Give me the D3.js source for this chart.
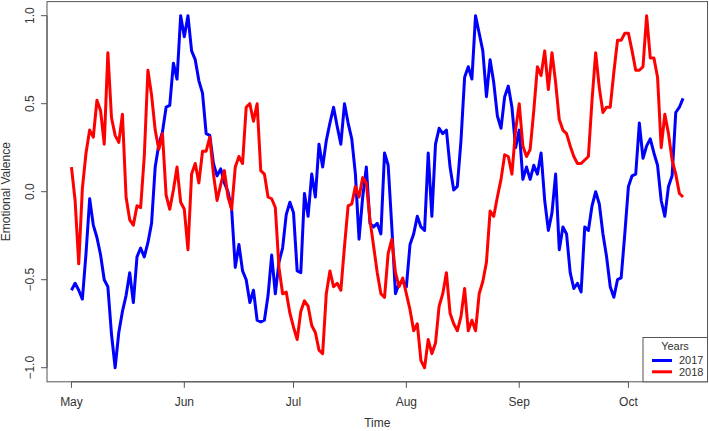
<!DOCTYPE html>
<html>
<head>
<meta charset="utf-8">
<script src="https://cdn.jsdelivr.net/npm/d3@7"></script>
<style>
  body { margin: 0; background: #fff; }
  svg { display: block; font-family: "Liberation Sans", Arial, sans-serif; }
  .lbl { fill: #333; font-size: 12px; }
  .leg { fill: #333; font-size: 11px; }
</style>
</head>
<body>
<div id="chart"></div>
<script>
// --- data: daily values from May 1 ---
const startDay = new Date(2017, 4, 1);
const years = ["2017", "2018"];
const colors = ["#0000ff", "#ff0000"];

const valence2017 = [
  -0.56, -0.52, -0.56, -0.61, -0.35, -0.04, -0.19, -0.26, -0.36, -0.50,
  -0.54, -0.81, -1.00, -0.80, -0.68, -0.59, -0.46, -0.63, -0.37, -0.32,
  -0.37, -0.29, -0.18, 0.14, 0.27, 0.34, 0.48, 0.49, 0.73, 0.64,
  1.00, 0.88, 1.00, 0.80, 0.75, 0.63, 0.56, 0.33, 0.32, 0.16,
  0.09, 0.13, 0.05, 0.00, -0.10, -0.43, -0.30, -0.45, -0.50, -0.63,
  -0.56, -0.73, -0.74, -0.73, -0.59, -0.36, -0.58, -0.40, -0.32, -0.13,
  -0.06, -0.12, -0.45, -0.46, -0.01, -0.14, 0.10, -0.03, 0.27, 0.14,
  0.29, 0.39, 0.48, 0.37, 0.27, 0.50, 0.39, 0.30, 0.10, -0.27,
  -0.03, 0.14, -0.18, -0.20, -0.18, -0.24, 0.22, 0.15, -0.20, -0.58,
  -0.52, -0.51, -0.54, -0.30, -0.24, -0.14, -0.20, -0.22, 0.22, -0.14,
  0.27, 0.36, 0.33, 0.35, 0.14, 0.01, 0.03, 0.29, 0.65, 0.71,
  0.64, 1.00, 0.90, 0.80, 0.54, 0.75, 0.62, 0.43, 0.36, 0.54,
  0.60, 0.48, 0.25, 0.35, 0.07, 0.14, 0.07, 0.15, 0.10, 0.22,
  -0.05, -0.22, -0.12, 0.10, -0.33, -0.20, -0.24, -0.46, -0.55, -0.52,
  -0.57, -0.20, -0.22, -0.08, 0.00, -0.07, -0.24, -0.37, -0.54, -0.60,
  -0.50, -0.49, -0.24, 0.03, 0.09, 0.10, 0.39, 0.19, 0.26, 0.30,
  0.22, 0.15, -0.05, -0.14, 0.03, 0.09, 0.45, 0.48, 0.53
];

const valence2018 = [
  0.14, -0.05, -0.41, 0.02, 0.22, 0.35, 0.31, 0.52, 0.46, 0.27,
  0.79, 0.42, 0.32, 0.28, 0.44, -0.03, -0.16, -0.19, -0.08, -0.09,
  0.20, 0.69, 0.55, 0.35, 0.24, 0.33, -0.02, -0.10, 0.01, 0.14,
  -0.06, -0.10, -0.33, 0.10, 0.16, 0.05, 0.23, 0.23, 0.31, 0.10,
  -0.05, 0.04, 0.12, -0.03, -0.10, 0.14, 0.20, 0.16, 0.48, 0.50,
  0.40, 0.50, 0.12, 0.10, -0.03, -0.04, -0.09, -0.43, -0.58, -0.57,
  -0.69, -0.77, -0.84, -0.68, -0.62, -0.65, -0.76, -0.80, -0.90, -0.92,
  -0.58, -0.45, -0.54, -0.52, -0.56, -0.31, -0.08, -0.07, 0.03, -0.03,
  0.08, 0.05, -0.16, -0.31, -0.46, -0.58, -0.60, -0.35, -0.27, -0.46,
  -0.54, -0.49, -0.58, -0.67, -0.79, -0.75, -0.96, -1.00, -0.84, -0.92,
  -0.86, -0.65, -0.58, -0.46, -0.69, -0.75, -0.79, -0.71, -0.55, -0.79,
  -0.73, -0.79, -0.58, -0.51, -0.40, -0.11, -0.14, -0.03, 0.07, 0.21,
  0.20, 0.10, 0.35, 0.50, 0.26, 0.20, 0.24, 0.46, 0.71, 0.66,
  0.80, 0.58, 0.79, 0.62, 0.41, 0.35, 0.33, 0.26, 0.20, 0.16,
  0.16, 0.18, 0.20, 0.52, 0.79, 0.59, 0.45, 0.48, 0.48, 0.68,
  0.86, 0.86, 0.90, 0.90, 0.80, 0.69, 0.69, 0.71, 1.00, 0.76,
  0.76, 0.65, 0.25, 0.44, 0.33, 0.18, 0.10, -0.01, -0.03
];

const yTicks = [-1.0, -0.5, 0.0, 0.5, 1.0];
const monthLabels = ["May", "Jun", "Jul", "Aug", "Sep", "Oct"];

// --- layout ---
const width = 709, height = 431;
const box = { left: 47, right: 707.5, top: 1.6, bottom: 381.8 };

const svg = d3.select('#chart').append('svg')
    .attr('width', width)
    .attr('height', height);

const series = [valence2017, valence2018].map((vals, k) => ({
    name: years[k],
    color: colors[k],
    points: vals.map((v, i) => ({ date: d3.timeDay.offset(startDay, i), v }))
}));

// R style 4% padding on both axes
const dateExt = d3.extent(series[0].points, d => d.date);
const span = dateExt[1] - dateExt[0];
const x = d3.scaleTime()
    .domain([new Date(+dateExt[0] - span * 0.04), new Date(+dateExt[1] + span * 0.04)])
    .range([box.left, box.right]);

const y = d3.scaleLinear()
    .domain([-1.08, 1.08])
    .range([box.bottom, box.top]);

// lines
const line = d3.line()
    .x(d => x(d.date))
    .y(d => y(d.v));

svg.append('g')
    .selectAll('path')
    .data(series)
    .join('path')
    .attr('d', d => line(d.points))
    .attr('fill', 'none')
    .attr('stroke', d => d.color)
    .attr('stroke-width', 3)
    .attr('stroke-linejoin', 'round');

// x axis
const months = d3.timeMonth.range(startDay, d3.timeDay.offset(dateExt[1], 1));
const xAxis = svg.append('g');
xAxis.append('line')
    .attr('x1', x(months[0])).attr('x2', x(months[months.length - 1]))
    .attr('y1', box.bottom).attr('y2', box.bottom)
    .attr('stroke', '#555');
xAxis.selectAll('line.tick')
    .data(months)
    .join('line')
    .attr('class', 'tick')
    .attr('x1', d => x(d)).attr('x2', d => x(d))
    .attr('y1', box.bottom).attr('y2', box.bottom + 6)
    .attr('stroke', '#555');
xAxis.selectAll('text')
    .data(months)
    .join('text')
    .attr('class', 'lbl')
    .attr('x', d => x(d))
    .attr('y', 406)
    .attr('text-anchor', 'middle')
    .text((d, i) => monthLabels[i]);

// y axis
const yAxis = svg.append('g');
yAxis.append('line')
    .attr('x1', box.left).attr('x2', box.left)
    .attr('y1', y(yTicks[0])).attr('y2', y(yTicks[yTicks.length - 1]))
    .attr('stroke', '#555');
yAxis.selectAll('line.tick')
    .data(yTicks)
    .join('line')
    .attr('class', 'tick')
    .attr('x1', box.left - 6).attr('x2', box.left)
    .attr('y1', d => y(d)).attr('y2', d => y(d))
    .attr('stroke', '#555');
yAxis.selectAll('text')
    .data(yTicks)
    .join('text')
    .attr('class', 'lbl')
    .attr('transform', d => `translate(34,${y(d)}) rotate(-90)`)
    .attr('text-anchor', 'middle')
    .text(d => d3.format('.1f')(d));

// frame
svg.append('rect')
    .attr('x', box.left).attr('y', box.top)
    .attr('width', box.right - box.left).attr('height', box.bottom - box.top)
    .attr('fill', 'none')
    .attr('stroke', '#555');

// axis titles
svg.append('text')
    .attr('class', 'lbl')
    .attr('x', (box.left + box.right) / 2)
    .attr('y', 427)
    .attr('text-anchor', 'middle')
    .text('Time');

svg.append('text')
    .attr('class', 'lbl')
    .attr('transform', `translate(10,${(box.top + box.bottom) / 2}) rotate(-90)`)
    .attr('text-anchor', 'middle')
    .text('Emotional Valence');

// legend
const lg = svg.append('g');
lg.append('rect')
    .attr('x', 643).attr('y', 337.5)
    .attr('width', box.right - 643).attr('height', box.bottom - 337.5)
    .attr('fill', '#fff')
    .attr('stroke', '#555');
lg.append('text')
    .attr('class', 'leg')
    .attr('x', 675).attr('y', 350)
    .attr('text-anchor', 'middle')
    .text('Years');
const items = lg.selectAll('g.item')
    .data(series)
    .join('g')
    .attr('class', 'item')
    .attr('transform', (d, i) => `translate(0,${360.5 + i * 11.3})`);
items.append('line')
    .attr('x1', 652).attr('x2', 672)
    .attr('stroke', d => d.color)
    .attr('stroke-width', 3);
items.append('text')
    .attr('class', 'leg')
    .attr('x', 679).attr('y', 3.8)
    .text(d => d.name);
</script>
</body>
</html>
